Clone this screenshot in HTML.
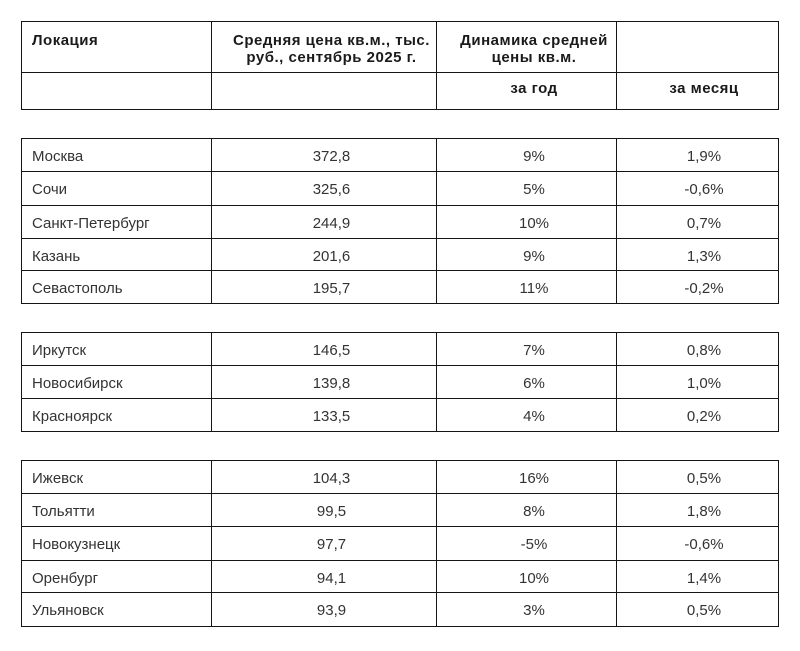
<!DOCTYPE html>
<html>
<head>
<meta charset="utf-8">
<style>
  html,body{margin:0;padding:0;background:#fff;}
  body{width:800px;height:651px;position:relative;overflow:hidden;font-family:"Liberation Sans","Noto Sans CJK SC",sans-serif;}
  .h{position:absolute;left:21px;width:758px;height:1px;background:#151515;}
  .v{position:absolute;width:1px;background:#151515;}
  .t{position:absolute;color:#333;font-size:15px;white-space:nowrap;}
  .c1{left:32px;}
  .c2{left:227px;width:209px;text-align:center;}
  .c3{left:452px;width:164px;text-align:center;}
  .c4{left:630px;width:148px;text-align:center;}
  .r{height:33px;line-height:33px;padding-top:2px;}
  .b{font-weight:bold;color:#1a1a1a;letter-spacing:0.5px;}
  .hd1{line-height:17px;top:32px;}
  .hd2{top:72px;line-height:34px;}
</style>
</head>
<body>
<!-- Table 1 header -->
<div class="h" style="top:21px"></div>
<div class="h" style="top:72px"></div>
<div class="h" style="top:109px"></div>
<div class="v" style="left:21px;top:21px;height:89px"></div>
<div class="v" style="left:211px;top:21px;height:89px"></div>
<div class="v" style="left:436px;top:21px;height:89px"></div>
<div class="v" style="left:616px;top:21px;height:89px"></div>
<div class="v" style="left:778px;top:21px;height:89px"></div>

<div class="t b c1 hd1">Локация</div>
<div class="t b c2 hd1">Средняя цена кв.м., тыс.<br>руб., сентябрь 2025 г.</div>
<div class="t b c3 hd1">Динамика средней<br>цены кв.м.</div>
<div class="t b c3 hd2">за год</div>
<div class="t b c4 hd2">за месяц</div>

<!-- Table 2 -->
<div class="h" style="top:138px"></div>
<div class="h" style="top:171px"></div>
<div class="h" style="top:205px"></div>
<div class="h" style="top:238px"></div>
<div class="h" style="top:270px"></div>
<div class="h" style="top:303px"></div>
<div class="v" style="left:21px;top:138px;height:166px"></div>
<div class="v" style="left:211px;top:138px;height:166px"></div>
<div class="v" style="left:436px;top:138px;height:166px"></div>
<div class="v" style="left:616px;top:138px;height:166px"></div>
<div class="v" style="left:778px;top:138px;height:166px"></div>

<div class="t r c1" style="top:138px">Москва</div>
<div class="t r c2" style="top:138px">372,8</div>
<div class="t r c3" style="top:138px">9%</div>
<div class="t r c4" style="top:138px">1,9%</div>

<div class="t r c1" style="top:171px">Сочи</div>
<div class="t r c2" style="top:171px">325,6</div>
<div class="t r c3" style="top:171px">5%</div>
<div class="t r c4" style="top:171px">-0,6%</div>

<div class="t r c1" style="top:205px">Санкт-Петербург</div>
<div class="t r c2" style="top:205px">244,9</div>
<div class="t r c3" style="top:205px">10%</div>
<div class="t r c4" style="top:205px">0,7%</div>

<div class="t r c1" style="top:238px">Казань</div>
<div class="t r c2" style="top:238px">201,6</div>
<div class="t r c3" style="top:238px">9%</div>
<div class="t r c4" style="top:238px">1,3%</div>

<div class="t r c1" style="top:270px">Севастополь</div>
<div class="t r c2" style="top:270px">195,7</div>
<div class="t r c3" style="top:270px">11%</div>
<div class="t r c4" style="top:270px">-0,2%</div>

<!-- Table 3 -->
<div class="h" style="top:332px"></div>
<div class="h" style="top:365px"></div>
<div class="h" style="top:398px"></div>
<div class="h" style="top:431px"></div>
<div class="v" style="left:21px;top:332px;height:100px"></div>
<div class="v" style="left:211px;top:332px;height:100px"></div>
<div class="v" style="left:436px;top:332px;height:100px"></div>
<div class="v" style="left:616px;top:332px;height:100px"></div>
<div class="v" style="left:778px;top:332px;height:100px"></div>

<div class="t r c1" style="top:332px">Иркутск</div>
<div class="t r c2" style="top:332px">146,5</div>
<div class="t r c3" style="top:332px">7%</div>
<div class="t r c4" style="top:332px">0,8%</div>

<div class="t r c1" style="top:365px">Новосибирск</div>
<div class="t r c2" style="top:365px">139,8</div>
<div class="t r c3" style="top:365px">6%</div>
<div class="t r c4" style="top:365px">1,0%</div>

<div class="t r c1" style="top:398px">Красноярск</div>
<div class="t r c2" style="top:398px">133,5</div>
<div class="t r c3" style="top:398px">4%</div>
<div class="t r c4" style="top:398px">0,2%</div>

<!-- Table 4 -->
<div class="h" style="top:460px"></div>
<div class="h" style="top:493px"></div>
<div class="h" style="top:526px"></div>
<div class="h" style="top:560px"></div>
<div class="h" style="top:592px"></div>
<div class="h" style="top:626px"></div>
<div class="v" style="left:21px;top:460px;height:167px"></div>
<div class="v" style="left:211px;top:460px;height:167px"></div>
<div class="v" style="left:436px;top:460px;height:167px"></div>
<div class="v" style="left:616px;top:460px;height:167px"></div>
<div class="v" style="left:778px;top:460px;height:167px"></div>

<div class="t r c1" style="top:460px">Ижевск</div>
<div class="t r c2" style="top:460px">104,3</div>
<div class="t r c3" style="top:460px">16%</div>
<div class="t r c4" style="top:460px">0,5%</div>

<div class="t r c1" style="top:493px">Тольятти</div>
<div class="t r c2" style="top:493px">99,5</div>
<div class="t r c3" style="top:493px">8%</div>
<div class="t r c4" style="top:493px">1,8%</div>

<div class="t r c1" style="top:526px">Новокузнецк</div>
<div class="t r c2" style="top:526px">97,7</div>
<div class="t r c3" style="top:526px">-5%</div>
<div class="t r c4" style="top:526px">-0,6%</div>

<div class="t r c1" style="top:560px">Оренбург</div>
<div class="t r c2" style="top:560px">94,1</div>
<div class="t r c3" style="top:560px">10%</div>
<div class="t r c4" style="top:560px">1,4%</div>

<div class="t r c1" style="top:592px">Ульяновск</div>
<div class="t r c2" style="top:592px">93,9</div>
<div class="t r c3" style="top:592px">3%</div>
<div class="t r c4" style="top:592px">0,5%</div>
</body>
</html>
